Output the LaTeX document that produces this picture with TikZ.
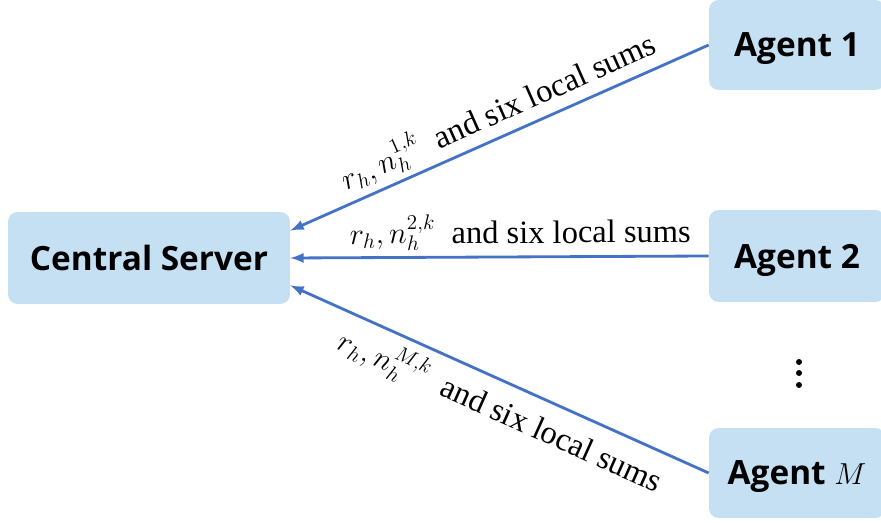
\documentclass[tikz,border=0pt]{standalone}
\usepackage{fontspec}
\setmainfont{Liberation Serif}
\setsansfont{Open Sans}
\usetikzlibrary{arrows}

\definecolor{boxblue}{HTML}{C5E0F3}
\definecolor{lineblue}{HTML}{4472C4}

\tikzset{
	unit/.style={draw=none,
		fill=boxblue,
		rounded corners=5.5pt,
		font=\sffamily\bfseries\fontsize{19}{22}\selectfont,
		text depth=0pt,
		inner sep=0pt},
	msg/.style={lineblue,
		line width=1.6pt,
		-latex},
	msglabel/.style={black,
		font=\fontsize{18.5}{21}\selectfont,
		sloped,
		inner sep=3pt}
}

\begin{document}
\begin{tikzpicture}[x=0.02cm,y=0.02cm]
		
		\useasboundingbox (0,0) rectangle (881,523);
		
		% Central server
		\node[unit,
		minimum width=5.64cm,
		minimum height=1.84cm] (server) at (149,265) {Central Server};
		
		% Agents
		\node[unit,
		minimum width=3.52cm,
		minimum height=1.8cm] (agent1) at (797,478) {Agent 1};
		\node[unit,
		minimum width=3.52cm,
		minimum height=1.84cm] (agent2) at (797,267) {Agent 2};
		\node[unit,
		minimum width=3.52cm,
		minimum height=1.8cm] (agentM) at (797,50) {Agent \textnormal{$M$}};
		
		% Dots
		\fill (799,161) circle (3);
		\fill (799,150) circle (3);
		\fill (799,138) circle (3);
		
		% Messages to the server
		\draw[msg] (agent1.west) -- (server.11)
		node[msglabel,pos=0.48,above]{$r_h, n_h^{1,k}$\hspace{0.5em}and six local sums};
		
		\draw[msg] (agent2.west) -- (server.east)
		node[msglabel,pos=0.45,above]{$r_h, n_h^{2,k}$\hspace{0.5em}and six local sums};
		
		\draw[msg] (agentM.west) -- (server.-11)
		node[msglabel,pos=0.47,below=2pt]{$r_h, n_h^{M,k}$\hspace{0.5em}and six local sums};
		
	\end{tikzpicture}
\end{document}
